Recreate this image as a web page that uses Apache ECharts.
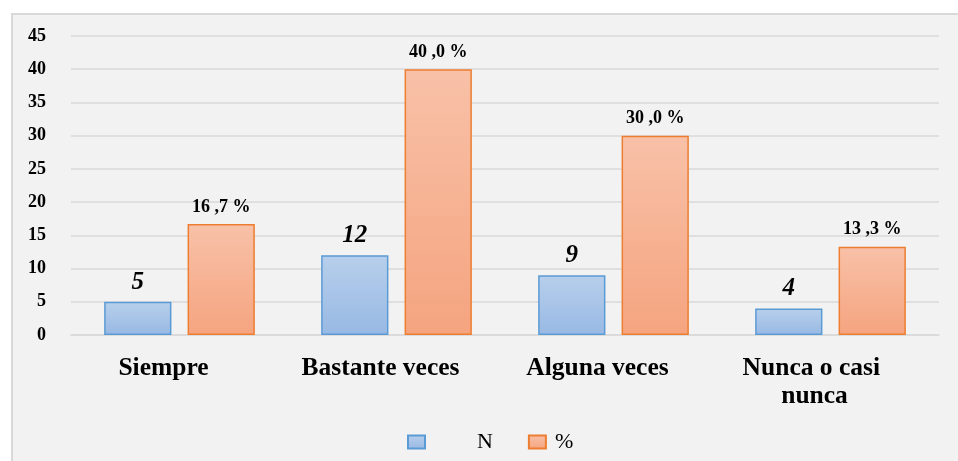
<!DOCTYPE html>
<html>
<head>
<meta charset="utf-8">
<script src="https://cdn.jsdelivr.net/npm/echarts@6/dist/echarts.min.js"></script>
<style>
  html, body { margin: 0; padding: 0; background: #ffffff; overflow: hidden; }
  #box { position: absolute; left: 11px; top: 13px; width: 960px; height: 460px;
         background: #f2f2f2; border-left: 2px solid #d9d9d9; border-top: 2px solid #d9d9d9; box-sizing: border-box; }
  #chart { position: absolute; left: 0; top: 0; width: 958px; height: 461px; }
</style>
</head>
<body>
<div id="box"></div>
<div id="chart"></div>
<script>
const categories = ['Siempre', 'Bastante veces', 'Alguna veces', 'Nunca o casi nunca'];
const seriesNames = ['N', '%'];
const nValues = [5, 12, 9, 4];
const pctValues = [16.7, 40.0, 30.0, 13.3];
const yTicks = { min: 0, max: 45, interval: 5 };

const serif = "'Liberation Serif', 'Times New Roman', serif";
const chart = echarts.init(document.getElementById('chart'));

function grad(top, bottom) {
  return new echarts.graphic.LinearGradient(0, 0, 0, 1, [
    { offset: 0, color: top }, { offset: 1, color: bottom }
  ]);
}

chart.setOption({
  backgroundColor: 'transparent',
  animation: false,
  grid: { left: 71, right: 19, top: 36, bottom: 126 },
  legend: {
    left: 402, top: 426,
    itemWidth: 17, itemHeight: 13, itemGap: 35,
    icon: 'rect',
    textStyle: { fontFamily: serif, fontSize: 22, color: '#000' },
    data: [
      { name: seriesNames[0], textStyle: { padding: [0, 0, 0, 47] } },
      { name: seriesNames[1], textStyle: { padding: [0, 0, 0, 4] } }
    ]
  },
  xAxis: {
    type: 'category',
    data: categories,
    axisLine: { lineStyle: { color: '#d9d9d9', width: 1.5 } },
    axisTick: { show: false },
    axisLabel: {
      interval: 0,
      margin: 19,
      fontFamily: serif, fontSize: 25.5, fontWeight: 'bold', color: '#000',
      width: 180, overflow: 'break', lineHeight: 28,
      padding: [0, 32, 0, 0]
    }
  },
  yAxis: {
    type: 'value',
    min: yTicks.min, max: yTicks.max, interval: yTicks.interval,
    axisLine: { show: false },
    axisTick: { show: false },
    splitLine: { lineStyle: { color: '#d9d9d9', width: 1.5 } },
    axisLabel: { margin: 25, fontFamily: serif, fontSize: 18, fontWeight: 'bold', color: '#000' }
  },
  series: [
    {
      name: seriesNames[0], type: 'bar', data: nValues,
      barWidth: '31%', barGap: '24%',
      itemStyle: { color: grad('#b7cfeb', '#98b9e4'), borderColor: '#5b9bd5', borderWidth: 1.5 },
      label: { show: true, position: 'top', distance: 7,
        fontFamily: serif, fontSize: 25, fontWeight: 'bold', fontStyle: 'italic', color: '#000' }
    },
    {
      name: seriesNames[1], type: 'bar', data: pctValues,
      barWidth: '31%',
      itemStyle: { color: grad('#f8c1a8', '#f5a47f'), borderColor: '#ed7d31', borderWidth: 1.5 },
      label: { show: true, position: 'top', distance: 8,
        fontFamily: serif, fontSize: 18, fontWeight: 'bold', color: '#000',
        formatter: p => p.value.toFixed(1).replace('.', ' ,') + ' %' }
    }
  ]
});
</script>
</body>
</html>
